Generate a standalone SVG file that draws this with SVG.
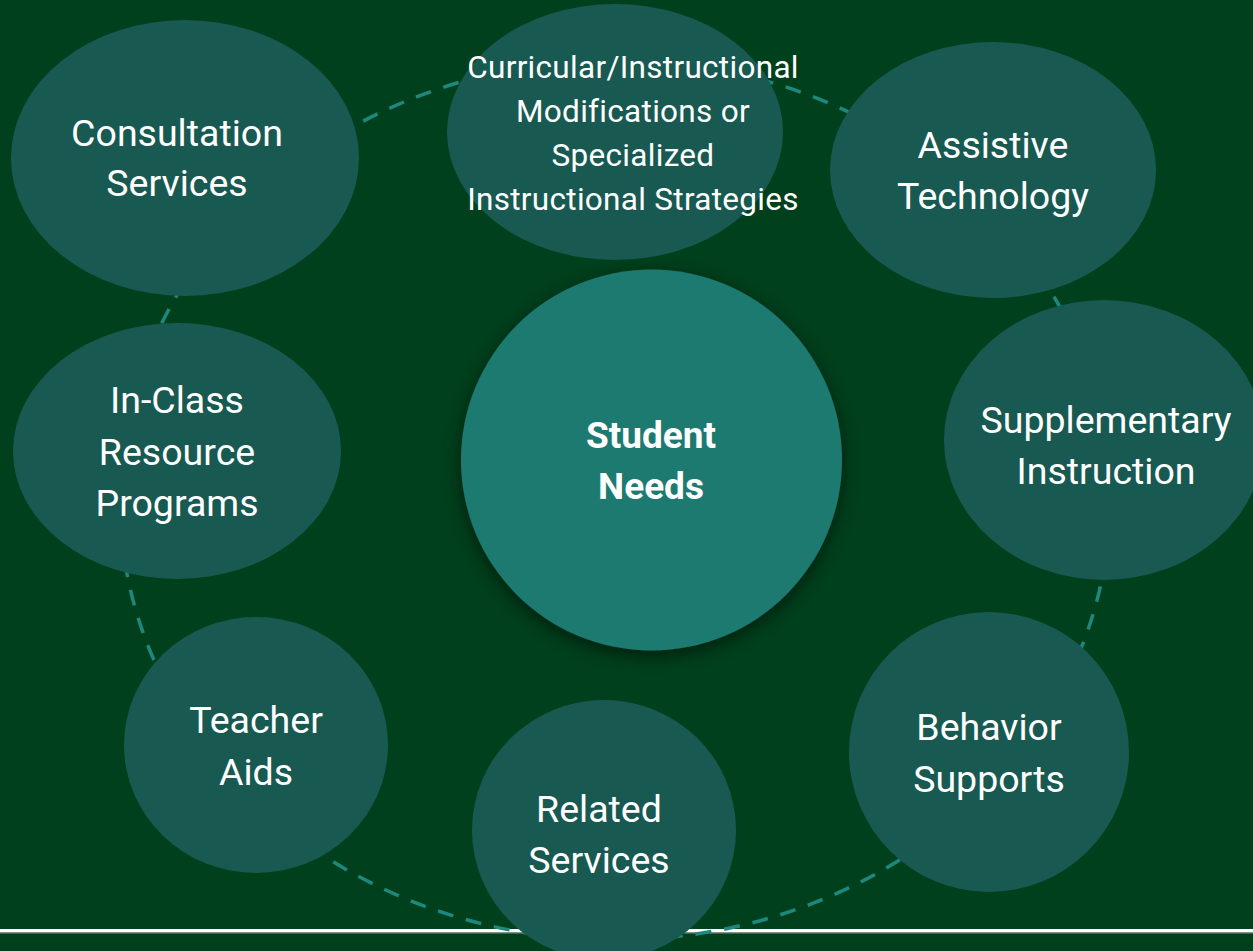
<svg xmlns="http://www.w3.org/2000/svg" width="1253" height="951" viewBox="0 0 1253 951">
<defs>
<style>
.sat{fill:#185a52;}
.t{font-family:Roboto,"Liberation Sans",sans-serif;fill:#ffffff;text-anchor:middle;font-size:37.5px;}
.ts{font-size:31.5px;letter-spacing:0.3px;}
.tb{font-weight:bold;font-size:37px;}
.ring{fill:none;stroke:#1d887d;stroke-width:3.5;stroke-dasharray:16 13;}
</style>
<filter id="sh" x="-20%" y="-20%" width="140%" height="140%">
<feDropShadow dx="0" dy="5" stdDeviation="9" flood-color="#000000" flood-opacity="0.55"/>
</filter>
</defs>
<rect x="0" y="0" width="1253" height="951" fill="#00401c"/>
<rect x="0" y="929" width="1253" height="3.5" fill="#ffffff"/>
<rect x="0" y="932.5" width="1253" height="1" fill="#7a8a80"/>
<g id="connectors">
<ellipse class="ring" cx="615" cy="500" rx="495" ry="440"/>
</g>
<g id="consultation">
<ellipse class="sat" cx="185" cy="158" rx="174" ry="138"/>
<text class="t" x="177" y="146">Consultation</text>
<text class="t" x="177" y="196">Services</text>
</g>
<g id="curricular">
<ellipse class="sat" cx="615" cy="132" rx="168" ry="128"/>
<text class="t ts" x="633" y="78">Curricular/Instructional</text>
<text class="t ts" x="633" y="122">Modifications or</text>
<text class="t ts" x="633" y="166">Specialized</text>
<text class="t ts" x="633" y="210">Instructional Strategies</text>
</g>
<g id="assistive">
<ellipse class="sat" cx="993" cy="170" rx="163" ry="128"/>
<text class="t" x="993" y="158">Assistive</text>
<text class="t" x="993" y="209">Technology</text>
</g>
<g id="supplementary">
<ellipse class="sat" cx="1104" cy="440" rx="160" ry="140"/>
<text class="t" x="1106" y="433">Supplementary</text>
<text class="t" x="1106" y="484">Instruction</text>
</g>
<g id="behavior">
<ellipse class="sat" cx="989" cy="752" rx="140" ry="140"/>
<text class="t" x="989" y="740">Behavior</text>
<text class="t" x="989" y="792">Supports</text>
</g>
<g id="related">
<ellipse class="sat" cx="604" cy="830" rx="132" ry="130"/>
<text class="t" x="599" y="822">Related</text>
<text class="t" x="599" y="873">Services</text>
</g>
<g id="teacher">
<ellipse class="sat" cx="256" cy="745" rx="132" ry="128"/>
<text class="t" x="256" y="733">Teacher</text>
<text class="t" x="256" y="785">Aids</text>
</g>
<g id="inclass">
<ellipse class="sat" cx="177" cy="451" rx="164" ry="128"/>
<text class="t" x="177" y="413">In-Class</text>
<text class="t" x="177" y="465">Resource</text>
<text class="t" x="177" y="516">Programs</text>
</g>
<g id="student-needs">
<circle cx="651.5" cy="460" r="190.5" fill="#1c7a70" filter="url(#sh)"/>
<text class="t tb" x="651" y="448">Student</text>
<text class="t tb" x="651" y="499">Needs</text>
</g>
</svg>
